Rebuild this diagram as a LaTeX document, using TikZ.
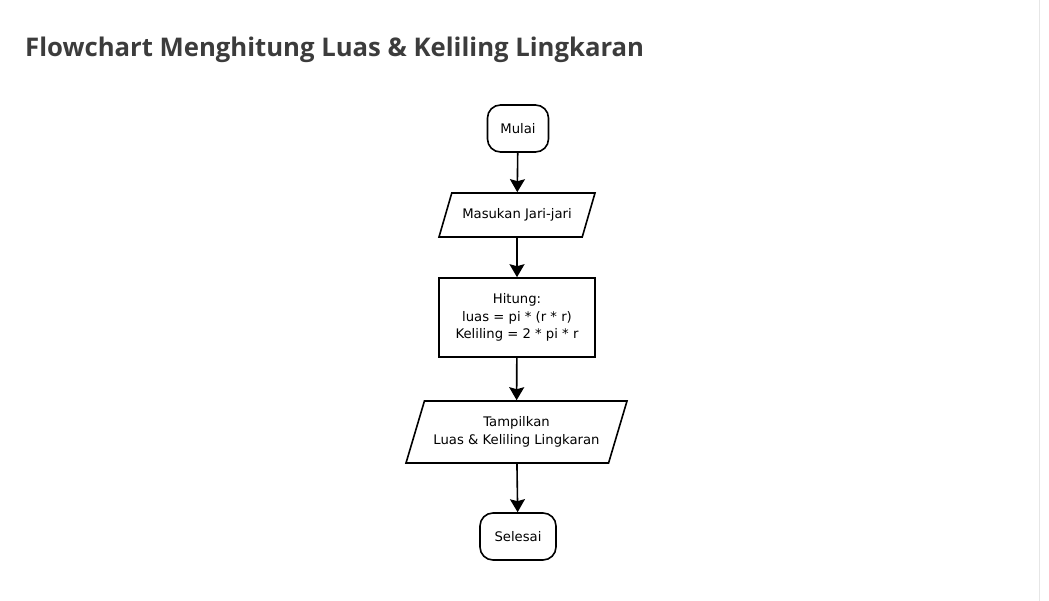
\documentclass[tikz,border=0pt]{standalone}
\usepackage{fontspec}
\setmainfont{DejaVu Sans}
\newfontfamily\titlefont{Open Sans}
\usetikzlibrary{arrows.meta,shapes.geometric}

\definecolor{titlegray}{HTML}{3C3C3C}
\definecolor{edgegray}{HTML}{E6E6E6}

\tikzset{
  terminal/.style = {draw, line width=1.6pt, rounded corners=13pt, minimum height=47pt, inner sep=0pt, font=\fontsize{13.2}{17.5}\selectfont},
  iobox/.style = {draw, line width=1.6pt, trapezium, trapezium left angle=73, trapezium right angle=107, trapezium stretches body, inner xsep=0pt, font=\fontsize{13.2}{17.5}\selectfont, align=center},
  process/.style = {draw, line width=1.6pt, rectangle, inner sep=0pt, font=\fontsize{13.2}{17.5}\selectfont, align=center},
  flow/.style = {line width=1.6pt, -{Stealth[length=13pt,width=15pt,inset=2pt]}}
}

\begin{document}
\begin{tikzpicture}[x=1pt,y=-1pt]
	\useasboundingbox (0,0) rectangle (1049,601);
	\draw[edgegray, line width=1pt] (1039,0) -- (1039,601);

	% judul
	\node[anchor=base west, inner sep=0pt, text=titlegray, font=\titlefont\bfseries\fontsize{25.7}{30}\selectfont] (judul) at (25,57) {Flowchart Menghitung Luas \& Keliling Lingkaran};

	% flowchart
	\node[terminal, minimum width=61pt] (mulai) at (518,128.5) {Mulai};
	\node[iobox, inner ysep=14.5pt, minimum width=156pt, minimum height=44pt] (input) at (517,215) {Masukan Jari-jari};
	\node[process, minimum width=156pt, minimum height=79pt] (hitung) at (517,317.5) {Hitung:\\luas = pi * (r * r)\\Keliling = 2 * pi * r};
	\node[iobox, inner ysep=15pt, minimum width=221pt, minimum height=62pt] (output) at (516.5,432) {Tampilkan\\Luas \& Keliling Lingkaran};
	\node[terminal, minimum width=76pt] (selesai) at (518,536.5) {Selesai};

	\draw[flow] (mulai) -- (input);
	\draw[flow] (input) -- (hitung);
	\draw[flow] (hitung) -- (output);
	\draw[flow] (output) -- (selesai);
\end{tikzpicture}
\end{document}
